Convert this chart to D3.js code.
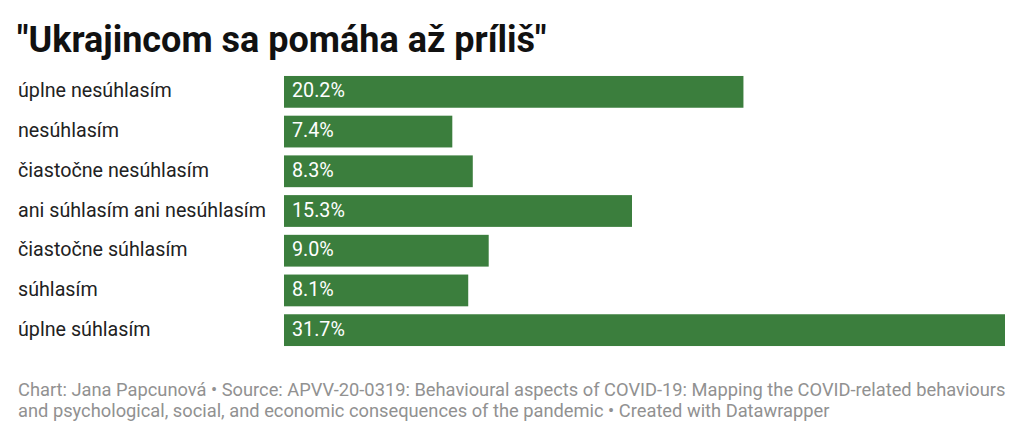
<html>
<head>
  <script src="https://d3js.org/d3.v7.min.js"></script>
  <style>
    body { margin: 0; background: #fff; }
    text { font-family: Roboto, "Noto Sans", sans-serif; }
  </style>
</head>
<body>
  <svg id="chart" width="1024" height="439"></svg>
  <script>
    // answers and shares (%)
    const categories = [
      "úplne nesúhlasím",
      "nesúhlasím",
      "čiastočne nesúhlasím",
      "ani súhlasím ani nesúhlasím",
      "čiastočne súhlasím",
      "súhlasím",
      "úplne súhlasím"
    ];
    const values = [20.2, 7.4, 8.3, 15.3, 9.0, 8.1, 31.7];

    const title = "\"Ukrajincom sa pomáha až príliš\"";
    const footerLines = [
      "Chart: Jana Papcunová • Source: APVV-20-0319: Behavioural aspects of COVID-19: Mapping the COVID-related behaviours",
      "and psychological, social, and economic consequences of the pandemic • Created with Datawrapper"
    ];

    const svg = d3.select("#chart");
    const green = "#3b7e3d";

    svg.append("text")
      .attr("x", 17)
      .attr("y", 52)
      .style("font-size", "36px")
      .style("font-weight", 700)
      .style("fill", "#111")
      .text(title);

    const x = d3.scaleLinear()
      .domain([0, d3.max(values)])
      .range([284, 1005]);

    const y = d3.scaleBand()
      .domain(categories)
      .range([72, 350])
      .paddingInner(0.2)
      .paddingOuter(0.1);

    const rows = svg.append("g")
      .selectAll("g")
      .data(categories)
      .enter()
      .append("g")
      .attr("transform", d => "translate(0," + y(d) + ")");

    rows.append("text")
      .attr("x", 18)
      .attr("y", y.bandwidth() / 2)
      .attr("dy", "0.28em")
      .style("font-size", "19.7px")
      .style("fill", "#222")
      .text(d => d);

    rows.append("rect")
      .attr("x", x(0))
      .attr("y", 0)
      .attr("width", (d, i) => x(values[i]) - x(0))
      .attr("height", y.bandwidth())
      .attr("fill", green);

    rows.append("text")
      .attr("x", x(0) + 8)
      .attr("y", y.bandwidth() / 2)
      .attr("dy", "0.28em")
      .style("font-size", "19.7px")
      .style("fill", "#fff")
      .text((d, i) => values[i].toFixed(1) + "%");

    svg.append("g")
      .selectAll("text")
      .data(footerLines)
      .enter()
      .append("text")
      .attr("x", 18)
      .attr("y", (d, i) => 396 + i * 21)
      .style("font-size", "18.3px")
      .style("fill", "#919191")
      .text(d => d);
  </script>
</body>
</html>
